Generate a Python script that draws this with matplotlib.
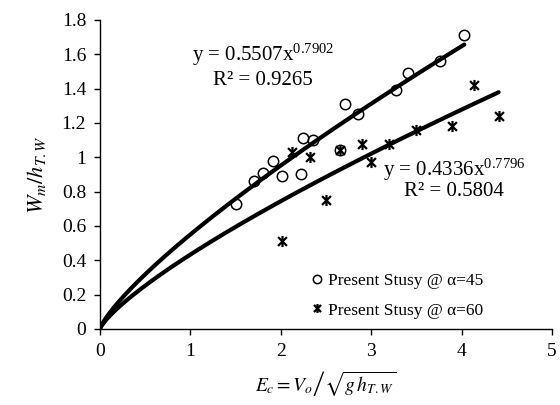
import numpy as np
import matplotlib
matplotlib.use("Agg")
import matplotlib.pyplot as plt
from matplotlib.path import Path

plt.rcParams['font.family'] = ['Liberation Serif', 'DejaVu Serif']
plt.rcParams['mathtext.fontset'] = 'stix'

# Data
x45 = [1.51, 1.70, 1.80, 1.91, 2.01, 2.22, 2.25, 2.36, 2.65, 2.71, 2.85, 3.28, 3.41, 3.76, 4.03]
y45 = [0.73, 0.86, 0.91, 0.98, 0.89, 0.90, 1.11, 1.10, 1.04, 1.31, 1.25, 1.39, 1.49, 1.56, 1.71]
x60 = [2.01, 2.12, 2.32, 2.50, 2.65, 2.90, 3.00, 3.20, 3.50, 3.89, 4.14, 4.41]
y60 = [0.51, 1.03, 1.00, 0.75, 1.04, 1.08, 0.97, 1.08, 1.16, 1.18, 1.42, 1.24]

fit45 = (0.5507, 0.7902, 0.9265)
fit60 = (0.4336, 0.7796, 0.5804)

labels = ['Present Stusy @ α=45', 'Present Stusy @ α=60']
xticks = [0, 1, 2, 3, 4, 5]
yticks = [0, 0.2, 0.4, 0.6, 0.8, 1, 1.2, 1.4, 1.6, 1.8]

# custom asterisk marker: X plus vertical bar
verts = [(-1, -1), (1, 1), (-1, 1), (1, -1), (0, -1.25), (0, 1.25)]
codes = [Path.MOVETO, Path.LINETO, Path.MOVETO, Path.LINETO, Path.MOVETO, Path.LINETO]
star = Path(verts, codes)

fig = plt.figure(figsize=(5.6, 4.05), dpi=100)
ax = fig.add_axes([0.1786, 0.1877, 0.807, 0.763])

for (a, b, r), xs in ((fit45, x45), (fit60, x60)):
    xx = np.linspace(0.005, max(xs), 300)
    ax.plot(xx, a * xx ** b, color='black', lw=3, solid_capstyle='round', zorder=2)

ax.plot(x45, y45, 'o', ms=7.5, mfc='none', mec='black', mew=1.1, ls='none', label=labels[0], zorder=3)
ax.plot(x60, y60, ls='none', marker=star, ms=8, mfc='none', mec='black', mew=1.6, label=labels[1], zorder=3)

ax.text(1.80, 1.60, r'y = 0.5507x$^{\mathregular{0.7902}}$', ha='center', va='center', fontsize=15)
ax.text(1.80, 1.45, 'R² = 0.9265', ha='center', va='center', fontsize=15)
ax.text(3.92, 0.93, r'y = 0.4336x$^{\mathregular{0.7796}}$', ha='center', va='center', fontsize=15)
ax.text(3.92, 0.80, 'R² = 0.5804', ha='center', va='center', fontsize=15)

ax.set_xlim(0, 5)
ax.set_ylim(0, 1.8)
ax.set_xticks(xticks)
ax.set_yticks(yticks)
ax.set_xticklabels([str(t) for t in xticks])
ax.set_yticklabels(['0', '0.2', '0.4', '0.6', '0.8', '1', '1.2', '1.4', '1.6', '1.8'])
ax.tick_params(direction='out', length=4, width=1, labelsize=14, pad=6)
for s in ('top', 'right'):
    ax.spines[s].set_visible(False)
for s in ('left', 'bottom'):
    ax.spines[s].set_linewidth(1)

ax.set_xlabel(r'$E_c = V_o\left/\sqrt{g\,h_{T.W}}\right.$', fontsize=14, labelpad=7)
ax.set_ylabel(r'$W_m/h_{T.W}$', fontsize=16, labelpad=10)

ax.legend(loc='lower right', bbox_to_anchor=(0.87, 0.0), frameon=False, fontsize=12.5,
          handletextpad=0.0, handlelength=1.2, borderaxespad=0.2, labelspacing=0.75,
          markerscale=0.8)

fig.savefig('out.png', dpi=100)
